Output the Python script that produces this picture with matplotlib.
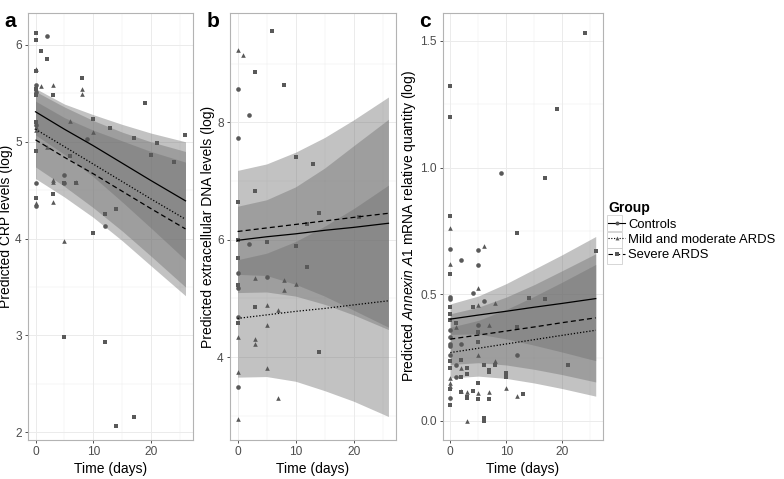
import matplotlib
matplotlib.use('Agg')
from matplotlib import pyplot as plt
from matplotlib.lines import Line2D
from matplotlib.patches import Rectangle
import numpy as np

plt.rcParams['font.family'] = ['Liberation Sans', 'DejaVu Sans']
plt.rcParams['mathtext.fontset'] = 'custom'
plt.rcParams['mathtext.rm'] = 'Liberation Sans'
plt.rcParams['mathtext.it'] = 'Liberation Sans:italic'

groups = ['Controls', 'Mild and moderate ARDS', 'Severe ARDS']
markers = ['o', '^', 's']
linestyles = ['-', (0, (1, 1.5)), (0, (4, 2.5))]

t_fit = [0, 5, 10, 15, 20, 26]

# ---- panel a: CRP ----
crp_fit = [[5.31, 5.13, 4.96, 4.78, 4.60, 4.39],
           [5.13, 4.95, 4.77, 4.59, 4.41, 4.20],
           [5.02, 4.84, 4.67, 4.49, 4.31, 4.10]]
crp_lo = [[5.07, 4.87, 4.64, 4.38, 4.11, 3.78],
          [4.74, 4.54, 4.32, 4.08, 3.82, 3.50],
          [4.62, 4.43, 4.22, 3.98, 3.72, 3.41]]
crp_hi = [[5.55, 5.39, 5.28, 5.18, 5.09, 5.00],
          [5.52, 5.36, 5.22, 5.10, 5.00, 4.90],
          [5.42, 5.25, 5.12, 5.01, 4.90, 4.79]]
crp_day = [[2, 0, 0, 0, 0, 0, 5, 5, 9, 12],
           [0, 1, 3, 8, 8, 10, 6, 0, 0, 2, 0, 3, 3, 3, 7, 5],
           [0, 0, 1, 2, 0, 0, 0, 3, 8, 19, 26, 10, 13, 17, 21, 20, 24, 0, 0, 0,
            3, 5, 7, 6, 12, 14, 10, 5, 12, 14, 17]]
crp_val = [[6.09, 5.59, 5.51, 5.17, 4.57, 4.34, 4.66, 4.57, 5.03, 4.13],
           [5.75, 5.58, 5.59, 5.54, 5.49, 5.10, 5.21, 5.15, 5.12, 4.95, 4.37, 4.61,
            4.58, 4.38, 4.58, 3.98],
           [6.12, 6.05, 5.94, 5.85, 5.73, 5.54, 5.48, 5.48, 5.66, 5.40, 5.07, 5.24,
            5.14, 5.04, 4.99, 4.86, 4.79, 5.20, 4.90, 4.42, 4.46, 4.57, 4.57, 4.85,
            4.25, 4.31, 4.06, 2.98, 2.93, 2.06, 2.16]]

# ---- panel b: extracellular DNA ----
dna_fit = [[5.99, 6.05, 6.10, 6.16, 6.21, 6.28],
           [4.66, 4.72, 4.78, 4.83, 4.89, 4.96],
           [6.14, 6.20, 6.26, 6.32, 6.38, 6.45]]
dna_lo = [[5.41, 5.39, 5.24, 5.04, 4.80, 4.51],
          [3.66, 3.67, 3.59, 3.43, 3.25, 2.99],
          [5.10, 5.11, 5.04, 4.90, 4.72, 4.47]]
dna_hi = [[6.57, 6.68, 6.90, 7.22, 7.60, 8.05],
          [5.66, 5.77, 5.97, 6.23, 6.53, 6.93],
          [7.18, 7.29, 7.49, 7.74, 8.04, 8.43]]
dna_day = [[0, 2, 0, 2, 0, 5, 0, 0, 0],
           [0, 1, 3, 8, 8, 10, 5, 7, 5, 0, 3, 3, 0, 5, 7, 0],
           [6, 3, 8, 10, 13, 3, 0, 14, 12, 21, 5, 10, 0, 0, 12, 0, 3, 0, 14]]
dna_val = [[8.57, 8.13, 7.74, 5.93, 5.43, 5.37, 5.18, 4.68, 3.50],
           [9.23, 9.15, 5.35, 5.32, 5.15, 5.25, 4.88, 4.81, 4.54, 4.34, 4.31, 4.22,
            3.74, 3.82, 3.31, 2.94],
           [9.56, 8.86, 8.63, 7.40, 7.29, 6.83, 6.64, 6.46, 6.26, 6.39, 5.96, 5.90,
            5.99, 5.69, 5.53, 5.23, 4.85, 4.59, 4.08]]

# ---- panel c: Annexin A1 ----
anx_fit = [[0.402, 0.418, 0.433, 0.449, 0.464, 0.483],
           [0.270, 0.287, 0.304, 0.321, 0.338, 0.358],
           [0.323, 0.339, 0.355, 0.371, 0.388, 0.407]]
anx_lo = [[0.342, 0.343, 0.324, 0.299, 0.272, 0.238],
          [0.170, 0.177, 0.168, 0.150, 0.128, 0.098],
          [0.223, 0.230, 0.221, 0.204, 0.183, 0.154]]
anx_hi = [[0.462, 0.493, 0.542, 0.599, 0.656, 0.728],
          [0.370, 0.397, 0.440, 0.492, 0.548, 0.618],
          [0.423, 0.449, 0.489, 0.538, 0.593, 0.660]]
anx_day = [[9, 0, 5, 2, 5, 4, 0, 0, 6, 5, 2, 0, 0, 0, 0, 12, 1, 1, 0, 0],
           [0, 6, 0, 5, 5, 8, 1, 7, 5, 8, 2, 0, 0, 0, 10, 2, 3, 5, 7, 12, 3],
           [24, 0, 0, 19, 17, 0, 12, 0, 4, 14, 17, 26, 0, 0, 0, 1, 5, 12, 5, 0,
            0, 2, 8, 6, 3, 3, 7, 7, 10, 10, 2, 21, 5, 0, 2, 4, 3, 3, 5, 7, 13, 0,
            6, 6]]
anx_val = [[0.98, 0.68, 0.676, 0.634, 0.614, 0.505, 0.49, 0.48, 0.474, 0.378,
            0.305, 0.36, 0.33, 0.305, 0.26, 0.26, 0.22, 0.172, 0.09, 0.297],
           [0.76, 0.69, 0.62, 0.525, 0.457, 0.466, 0.37, 0.378, 0.26, 0.235, 0.21,
            0.17, 0.15, 0.14, 0.13, 0.12, 0.115, 0.11, 0.115, 0.10, 0.0],
           [1.53, 1.32, 1.20, 1.23, 0.96, 0.81, 0.74, 0.58, 0.45, 0.487, 0.48,
            0.67, 0.45, 0.424, 0.398, 0.385, 0.35, 0.37, 0.31, 0.236, 0.21, 0.24,
            0.22, 0.22, 0.21, 0.185, 0.2, 0.195, 0.19, 0.175, 0.175, 0.22, 0.15,
            0.125, 0.115, 0.12, 0.095, 0.09, 0.085, 0.085, 0.105, 0.065, 0.01,
            0.0]]

grid_c = '#ebebeb'
pt_c = '#595959'
tick_c = '#4d4d4d'


def panel(rect, letter, fit, lo, hi, day, val, ylim, yticks, yminor, ylabel):
    ax = fig.add_axes(rect)
    for g in range(3):
        ax.fill_between(t_fit, lo[g], hi[g], color='#6e6e6e', alpha=0.42, lw=0, zorder=2)
    for g in range(3):
        ax.scatter(day[g], val[g], marker=markers[g], s=11, color=pt_c, lw=0, zorder=3)
    for g in range(3):
        ax.plot(t_fit, fit[g], color='black', ls=linestyles[g], lw=0.9, zorder=4)
    ax.set_xlim(-1.3, 27.3)
    ax.set_ylim(*ylim)
    ax.set_xticks([0, 10, 20])
    ax.set_xticks([5, 15, 25], minor=True)
    ax.set_yticks(yticks)
    ax.set_yticks(yminor, minor=True)
    ax.grid(True, which='major', color=grid_c, lw=0.7, zorder=0)
    ax.grid(True, which='minor', color=grid_c, lw=0.35, zorder=0)
    ax.set_axisbelow(True)
    ax.tick_params(which='major', length=2.5, width=0.6, color='#333333',
                   labelsize=8.6, labelcolor=tick_c, pad=2)
    ax.tick_params(which='minor', length=0)
    for s in ax.spines.values():
        s.set_color('#b3b3b3')
        s.set_linewidth(0.8)
    ax.set_xlabel('Time (days)', fontsize=10, labelpad=3)
    ax.set_ylabel(ylabel, fontsize=10, labelpad=1.5)
    fig.text(rect[0] - 0.03, 0.975, letter, fontsize=15, fontweight='bold', va='top')
    return ax


W, H = 784, 479
fig = plt.figure(figsize=(W / 100, H / 100), dpi=100)


def r(l, rr):
    return [l / W, (H - 440) / H, (rr - l) / W, 427 / H]


panel(r(28, 193), 'a', crp_fit, crp_lo, crp_hi, crp_day, crp_val, (1.92, 6.33),
      [2, 3, 4, 5, 6], [2.5, 3.5, 4.5, 5.5], 'Predicted CRP levels (log)')
panel(r(230, 396), 'b', dna_fit, dna_lo, dna_hi, dna_day, dna_val, (2.59, 9.86),
      [4, 6, 8], [3, 5, 7, 9], 'Predicted extracellular DNA levels (log)')
axc = panel(r(443, 603), 'c', anx_fit, anx_lo, anx_hi, anx_day, anx_val, (-0.075, 1.61),
            [0.0, 0.5, 1.0, 1.5], [0.25, 0.75, 1.25],
            r'Predicted $\mathit{Annexin\ A1}$ mRNA relative quantity (log)')
axc.set_yticklabels(['0.0', '0.5', '1.0', '1.5'])

handles = [Line2D([], [], color='black', ls=linestyles[g], lw=0.8, marker=markers[g],
                  markersize=2.8, markerfacecolor=pt_c, markeredgewidth=0)
           for g in range(3)]
leg = fig.legend(handles, groups, loc='upper left', bbox_to_anchor=(603 / W, 1 - 196 / H),
                 frameon=False, fontsize=9.4, title='Group', handlelength=1.3,
                 handletextpad=0.25, labelspacing=0.25, borderaxespad=0)
leg.get_title().set_fontweight('bold')
leg.get_title().set_fontsize(10)
leg._legend_box.align = 'left'

for i in range(3):
    fig.patches.append(Rectangle((607 / W, 1 - (231 + 16.5 * i) / H), 15 / W, 16 / H,
                                 transform=fig.transFigure, fill=False,
                                 ec='#d0d0d0', lw=0.6))

fig.savefig('out.png', dpi=100)
